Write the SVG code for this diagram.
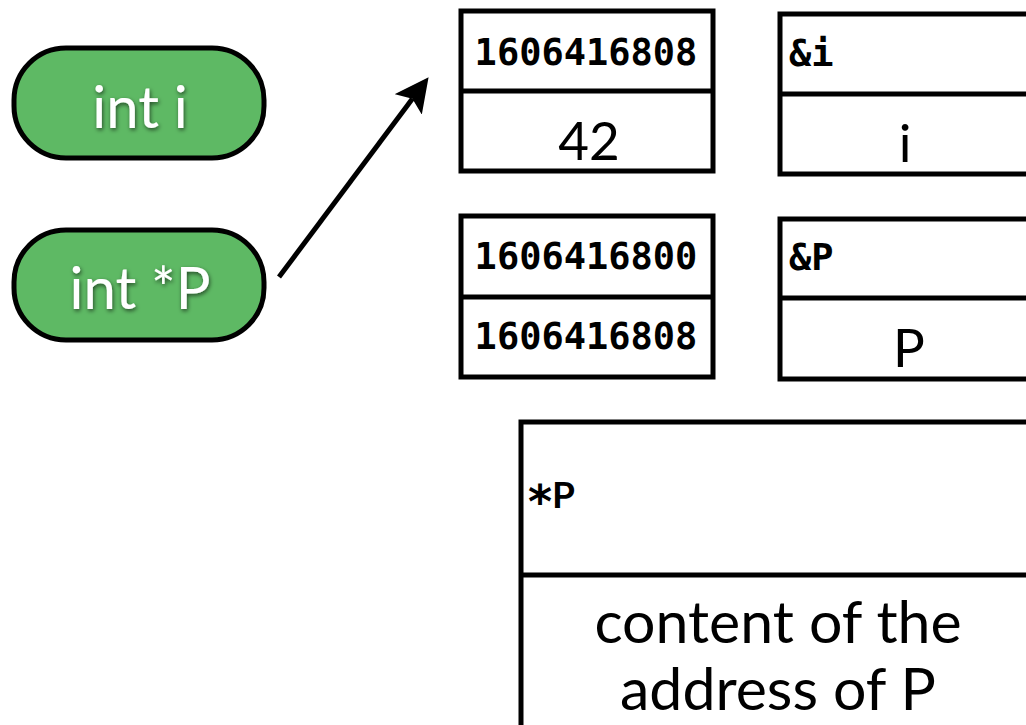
<svg xmlns="http://www.w3.org/2000/svg" width="1026" height="725" viewBox="0 0 1026 725">
  <style>
    .pill { fill: #5eb964; stroke: #000; stroke-width: 5; }
    .cell { fill: #fff; stroke: #000; stroke-width: 5; }
    .pilltxt { font-family: Lato, "Open Sans", sans-serif; font-size: 58px; fill: #fff; text-anchor: middle; filter: url(#shadow); }
    .mono { font-family: "DejaVu Sans Mono", monospace; font-weight: bold; font-size: 37px; fill: #000; }
    .val { font-family: Lato, "Open Sans", sans-serif; font-size: 53px; fill: #000; text-anchor: middle; }
    .big { font-size: 59px; }
    .lbl { font-family: Lato, "Open Sans", sans-serif; font-weight: bold; font-size: 37px; fill: #000; }
    .star { font-family: "DejaVu Sans", sans-serif; font-size: 46px; }
    .conn { stroke: #000; stroke-width: 5; fill: none; }
  </style>
  <defs>
    <filter id="shadow" x="-20%" y="-20%" width="140%" height="140%">
      <feDropShadow dx="1" dy="2" stdDeviation="2" flood-color="#000" flood-opacity="0.6"/>
    </filter>
    <marker id="arrow" viewBox="0 0 34 34" refX="7" refY="17" markerWidth="34" markerHeight="34" orient="auto" markerUnits="userSpaceOnUse">
      <path d="M0,0 L34,17 L0,34 L7,17 Z" fill="#000"/>
    </marker>
  </defs>
  <rect width="1026" height="725" fill="#fff"/>

  <!-- variable declarations -->
  <g id="int-i">
    <rect class="pill" x="14" y="48" width="250" height="110" rx="52"/>
    <text class="pilltxt" x="140" y="128">int i</text>
  </g>
  <g id="int-p">
    <rect class="pill" x="14" y="230" width="250" height="110" rx="52"/>
    <text class="pilltxt" x="140" y="309">int *P</text>
  </g>

  <!-- memory cell of i -->
  <g id="cell-i">
    <rect class="cell" x="461" y="11" width="252" height="160"/>
    <line class="cell" x1="461" y1="91" x2="713" y2="91"/>
    <text class="mono" x="586" y="65" text-anchor="middle">1606416808</text>
    <text class="val" x="589" y="160">42</text>
  </g>
  <g id="name-i">
    <rect class="cell" x="780" y="14" width="260" height="160"/>
    <line class="cell" x1="780" y1="94" x2="1040" y2="94"/>
    <text class="mono" x="789" y="66">&amp;i</text>
    <text class="val" x="905" y="162">i</text>
  </g>

  <!-- memory cell of P -->
  <g id="cell-p">
    <rect class="cell" x="461" y="216" width="252" height="161"/>
    <line class="cell" x1="461" y1="297" x2="713" y2="297"/>
    <text class="mono" x="586" y="269" text-anchor="middle">1606416800</text>
    <text class="mono" x="586" y="349" text-anchor="middle">1606416808</text>
  </g>
  <g id="name-p">
    <rect class="cell" x="780" y="219" width="260" height="160"/>
    <line class="cell" x1="780" y1="298" x2="1040" y2="298"/>
    <text class="mono" x="789" y="270">&amp;P</text>
    <text class="val" x="909" y="367">P</text>
  </g>

  <!-- dereference -->
  <g id="deref-p">
    <rect class="cell" x="521" y="422" width="520" height="320"/>
    <line class="cell" x1="521" y1="575" x2="1041" y2="575"/>
    <text class="lbl" x="528" y="508"><tspan class="star" dy="10">*</tspan><tspan dy="-10">P</tspan></text>
    <text class="val big" x="778" y="643">content of the</text>
    <text class="val big" x="778" y="710">address of P</text>
  </g>

  <g id="connectors">
    <line class="conn" x1="279" y1="277" x2="412.4" y2="98.8" marker-end="url(#arrow)"/>
  </g>
</svg>
